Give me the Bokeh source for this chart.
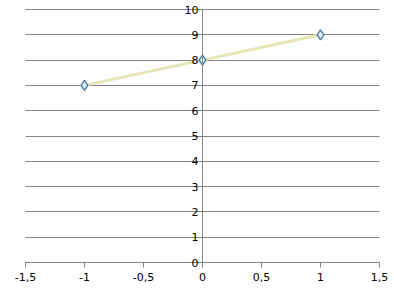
from bokeh.plotting import figure
from bokeh.models import FixedTicker, Range1d
from bokeh.embed import file_html
from bokeh.resources import INLINE

# data
x_vals = [-1, 0, 1]
y_vals = [7, 8, 9]
x_ticks = [-1.5, -1, -0.5, 0, 0.5, 1, 1.5]
x_tick_labels = ["-1,5", "-1", "-0,5", "0", "0,5", "1", "1,5"]
y_ticks = [0, 1, 2, 3, 4, 5, 6, 7, 8, 9, 10]

# frame spans the whole canvas; ranges extended so axes sit at the reference pixels
xs = 118.0   # px per x unit
ys = 25.3    # px per y unit
x_range = Range1d(x_ticks[0] - 25 / xs, x_ticks[-1] + 15 / xs)
y_range = Range1d(y_ticks[0] - 27 / ys, y_ticks[-1] + 9 / ys)

p = figure(width=394, height=289, output_backend="svg", toolbar_location=None,
           x_range=x_range, y_range=y_range,
           min_border=0)
p.outline_line_color = None
p.background_fill_color = "white"
p.border_fill_color = "white"

FONT = "DejaVu Sans"
GRAY = "#868686"

p.xgrid.visible = False
p.ygrid.grid_line_color = GRAY
p.ygrid.grid_line_width = 1
p.ygrid.ticker = FixedTicker(ticks=y_ticks)
p.ygrid.cross_bounds = (x_ticks[0], x_ticks[-1])

p.xaxis.fixed_location = 0
p.xaxis.bounds = (x_ticks[0], x_ticks[-1])
p.xaxis.ticker = FixedTicker(ticks=x_ticks)
p.xaxis.major_label_overrides = {t: l for t, l in zip(x_ticks, x_tick_labels)}
p.xaxis.axis_line_color = GRAY
p.xaxis.major_tick_line_color = GRAY
p.xaxis.major_tick_out = 5
p.xaxis.major_tick_in = 0
p.xaxis.minor_tick_line_color = None
p.xaxis.major_label_standoff = 5
p.xaxis.major_label_text_font = FONT
p.xaxis.major_label_text_font_size = "11px"
p.xaxis.major_label_text_color = "#000000"

p.yaxis.fixed_location = 0
p.yaxis.bounds = (y_ticks[0], y_ticks[-1])
p.yaxis.ticker = FixedTicker(ticks=y_ticks)
p.yaxis.axis_line_color = GRAY
p.yaxis.major_tick_line_color = GRAY
p.yaxis.major_tick_out = 0
p.yaxis.major_tick_in = 0
p.yaxis.minor_tick_line_color = None
p.yaxis.major_label_standoff = 4
p.yaxis.major_label_text_font = FONT
p.yaxis.major_label_text_font_size = "11px"
p.yaxis.major_label_text_color = "#000000"

p.line(x_vals, y_vals, line_color="#e6e6b4", line_width=3)
p.scatter(x_vals, y_vals, marker="diamond", size=10, line_color="#4f81a8",
          fill_color="#e8eef5", line_width=1.5)

open("out.html", "w").write(file_html(p, INLINE))
